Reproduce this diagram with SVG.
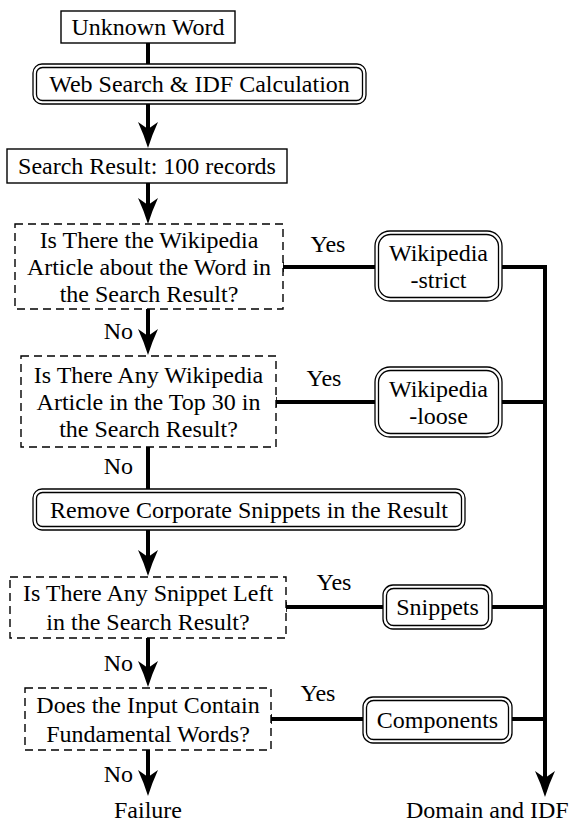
<svg xmlns="http://www.w3.org/2000/svg" width="573" height="825" viewBox="0 0 573 825">
<style>
text{font-family:"Liberation Serif","Noto Serif","Tinos","Nimbus Roman","Nimbus Roman No9 L","FreeSerif","DejaVu Serif",Times,serif;font-size:24px;fill:#000}
.c{text-anchor:middle}
.e{text-anchor:end}
.box{fill:#fff;stroke:#000;stroke-width:1.4}
.dash{fill:#fff;stroke:#000;stroke-width:1.4;stroke-dasharray:8,5}
.dbl{fill:none;stroke:#000;stroke-width:1.3}
.ln{fill:none;stroke:#000;stroke-width:4}
.tick{fill:none;stroke:#000;stroke-width:1.6}
</style>
<defs>
<marker id="ah" viewBox="-27 -11 28 22" markerWidth="28" markerHeight="22" refX="-10" refY="0" orient="auto" markerUnits="userSpaceOnUse">
<path d="M0,0 Q-13,-4 -26,-10 L-19,0 L-26,10 Q-13,4 0,0 Z" fill="#000"/>
</marker>
</defs>
<g id="connectors">
<path class="ln" d="M148,43 V64"/>
<path class="ln" d="M148,104 V138" marker-end="url(#ah)"/>
<path class="ln" d="M148,183 V214" marker-end="url(#ah)"/>
<path class="ln" d="M148,309 V345" marker-end="url(#ah)"/>
<path class="ln" d="M148,447 V489"/>
<path class="ln" d="M148,530 V566" marker-end="url(#ah)"/>
<path class="ln" d="M148,638 V677" marker-end="url(#ah)"/>
<path class="ln" d="M148,750 V786" marker-end="url(#ah)"/>
<path class="ln" d="M283,267 H375 M502,267 H545"/>
<path class="ln" d="M276,402 H375 M502,402 H545"/>
<path class="ln" d="M286,607 H383 M492,607 H545"/>
<path class="ln" d="M271,719 H363 M512,719 H545"/>
<path class="ln" d="M545,265 V787" marker-end="url(#ah)"/>
<path class="tick" d="M283,262 V272 M276,397 V407 M286,602 V612 M271,714 V724"/>
<text class="c" x="328" y="252">Yes</text>
<text class="c" x="324" y="386">Yes</text>
<text class="c" x="334" y="590">Yes</text>
<text class="c" x="318" y="701">Yes</text>
<text class="e" x="133" y="339">No</text>
<text class="e" x="133" y="474">No</text>
<text class="e" x="133" y="671">No</text>
<text class="e" x="133" y="782">No</text>
</g>
<g id="unknown-word">
<rect class="box" x="61" y="11" width="174" height="32"/>
<text class="c" x="148" y="35">Unknown Word</text>
</g>
<g id="web-search">
<rect class="dbl" x="33" y="64" width="333" height="40" rx="9"/>
<rect class="dbl" x="36.5" y="67.5" width="326" height="33" rx="6"/>
<text class="c" x="199.5" y="92">Web Search &amp; IDF Calculation</text>
</g>
<g id="search-result">
<rect class="box" x="7" y="149" width="280" height="34"/>
<text class="c" x="147" y="174">Search Result:  100 records</text>
</g>
<g id="decision-1">
<rect class="dash" x="15" y="224" width="268" height="85"/>
<text class="c" x="149" y="248">Is There the Wikipedia</text>
<text class="c" x="149" y="275">Article about the Word in</text>
<text class="c" x="149" y="302">the Search Result?</text>
</g>
<g id="decision-2">
<rect class="dash" x="21" y="356" width="255" height="91"/>
<text class="c" x="148.5" y="383">Is There Any Wikipedia</text>
<text class="c" x="148.5" y="410">Article in the Top 30 in</text>
<text class="c" x="148.5" y="437">the Search Result?</text>
</g>
<g id="remove-corporate">
<rect class="dbl" x="33" y="489" width="432" height="41" rx="9"/>
<rect class="dbl" x="36.5" y="492.5" width="425" height="34" rx="6"/>
<text class="c" x="249" y="518">Remove Corporate Snippets in the Result</text>
</g>
<g id="decision-3">
<rect class="dash" x="10" y="577" width="276" height="61"/>
<text class="c" x="148" y="601">Is There Any Snippet Left</text>
<text class="c" x="148" y="630">in the Search Result?</text>
</g>
<g id="decision-4">
<rect class="dash" x="25" y="688" width="246" height="62"/>
<text class="c" x="148" y="713">Does the Input Contain</text>
<text class="c" x="148" y="742">Fundamental Words?</text>
</g>
<g id="wikipedia-strict">
<rect class="dbl" x="375" y="231" width="127" height="70" rx="15"/>
<rect class="dbl" x="378.5" y="234.5" width="120" height="63" rx="12"/>
<text class="c" x="438.5" y="261">Wikipedia</text>
<text class="c" x="438.5" y="288">-strict</text>
</g>
<g id="wikipedia-loose">
<rect class="dbl" x="375" y="367" width="127" height="70" rx="15"/>
<rect class="dbl" x="378.5" y="370.5" width="120" height="63" rx="12"/>
<text class="c" x="438.5" y="397">Wikipedia</text>
<text class="c" x="438.5" y="424">-loose</text>
</g>
<g id="snippets">
<rect class="dbl" x="383" y="585" width="109" height="44" rx="10"/>
<rect class="dbl" x="386.5" y="588.5" width="102" height="37" rx="7"/>
<text class="c" x="437.5" y="615">Snippets</text>
</g>
<g id="components">
<rect class="dbl" x="363" y="697" width="149" height="46" rx="10"/>
<rect class="dbl" x="366.5" y="700.5" width="142" height="39" rx="7"/>
<text class="c" x="437.5" y="728">Components</text>
</g>
<g id="failure">
<text class="c" x="148" y="818">Failure</text>
</g>
<g id="domain-idf">
<text x="406" y="818">Domain and IDF</text>
</g>
</svg>
